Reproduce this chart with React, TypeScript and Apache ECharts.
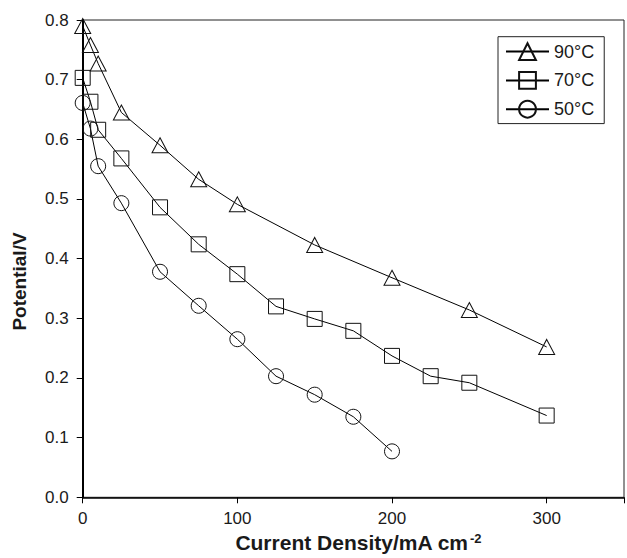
import React, { useEffect, useRef } from "react";
import * as echarts from "echarts";

// Current density (mA cm^-2) and cell potential (V) at three temperatures
const current90 = [0, 5, 10, 25, 50, 75, 100, 150, 200, 250, 300];
const potential90 = [0.79, 0.758, 0.727, 0.645, 0.59, 0.533, 0.491, 0.423, 0.368, 0.314, 0.252];

const current70 = [0, 5, 10, 25, 50, 75, 100, 125, 150, 175, 200, 225, 250, 300];
const potential70 = [0.703, 0.663, 0.616, 0.568, 0.486, 0.424, 0.374, 0.32, 0.299, 0.279, 0.237, 0.203, 0.192, 0.137];

const current50 = [0, 5, 10, 25, 50, 75, 100, 125, 150, 175, 200];
const potential50 = [0.661, 0.618, 0.555, 0.493, 0.378, 0.321, 0.265, 0.203, 0.172, 0.135, 0.077];

const seriesNames = ["90°C", "70°C", "50°C"];
const xTicks = [0, 100, 200, 300];

const FONT = "'Liberation Sans', Arial, Helvetica, sans-serif";
const INK = "#1a1a1a";

function pairs(xs: number[], ys: number[]) {
  return xs.map((x, i) => [x, ys[i]]);
}

export default function App() {
  const ref = useRef<HTMLDivElement>(null);

  useEffect(() => {
    if (!ref.current) return;
    const chart = echarts.init(ref.current, undefined, { renderer: "svg" });

    const lineSeries = (name: string, data: number[][], symbol: string, size: number | number[]) => ({
      name,
      type: "line",
      data,
      symbol,
      symbolSize: size,
      showAllSymbol: true,
      lineStyle: { color: "#000", width: 1 },
      itemStyle: { color: "transparent", borderColor: "#111", borderWidth: 1 },
      emphasis: { disabled: true },
    });

    chart.setOption({
      animation: false,
      backgroundColor: "#fff",
      grid: {
        left: 82.7,
        top: 20,
        right: -2,
        bottom: 60.7,
        show: true,
        borderColor: "#222",
        borderWidth: 1,
        backgroundColor: "transparent",
      },
      legend: {
        orient: "vertical",
        left: 498,
        top: 36.7,
        padding: [5.5, 10, 5, 7],
        itemWidth: 43,
        itemHeight: 21,
        itemGap: 10,
        borderColor: "#222",
        borderWidth: 1,
        backgroundColor: "#fff",
        data: seriesNames,
        textStyle: { fontFamily: FONT, fontSize: 18, color: INK },
      },
      xAxis: {
        type: "value",
        min: 0,
        max: 350,
        interval: 100,
        splitLine: { show: false },
        axisLine: { show: true, lineStyle: { color: "#000", width: 1.6 } },
        axisTick: { show: true, length: 6, lineStyle: { color: "#000", width: 1 } },
        axisLabel: {
          margin: 13,
          fontFamily: FONT,
          fontSize: 17,
          color: INK,
          formatter: (v: number) => (xTicks.includes(v) ? String(v) : ""),
        },
      },
      yAxis: {
        type: "value",
        min: 0,
        max: 0.8,
        interval: 0.1,
        splitLine: { show: false },
        axisLine: { show: true, lineStyle: { color: "#000", width: 2 } },
        axisTick: { show: true, length: 6, lineStyle: { color: "#000", width: 1 } },
        axisLabel: {
          margin: 14,
          fontFamily: FONT,
          fontSize: 17,
          color: INK,
          formatter: (v: number) => v.toFixed(1),
        },
      },
      graphic: [
        {
          type: "text",
          x: 468,
          y: 553,
          style: {
            text: "Current Density/mA cm",
            font: `bold 21px ${FONT}`,
            fill: INK,
            align: "right",
            verticalAlign: "bottom",
          },
        },
        {
          type: "text",
          x: 470,
          y: 545,
          style: {
            text: "-2",
            font: `bold 13px ${FONT}`,
            fill: INK,
            align: "left",
            verticalAlign: "bottom",
          },
        },
        {
          type: "text",
          x: 19.5,
          y: 281.5,
          rotation: Math.PI / 2,
          style: {
            text: "Potential/V",
            font: `bold 19px ${FONT}`,
            fill: INK,
            align: "center",
            verticalAlign: "middle",
          },
        },
      ],
      series: [
        lineSeries(seriesNames[0], pairs(current90, potential90), "triangle", [16, 15]),
        lineSeries(seriesNames[1], pairs(current70, potential70), "rect", 15),
        lineSeries(seriesNames[2], pairs(current50, potential50), "circle", 15),
      ],
    });

    return () => chart.dispose();
  }, []);

  return <div ref={ref} style={{ width: 627, height: 558, position: "absolute", left: 0, top: 0 }} />;
}
